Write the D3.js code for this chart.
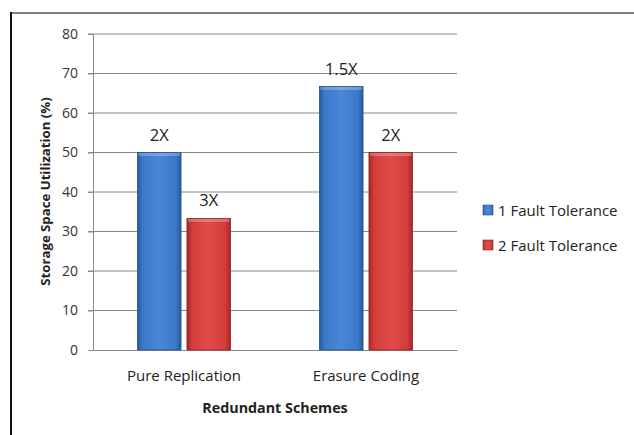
<!DOCTYPE html>
<html>
<head>
<meta charset="utf-8">
<script src="https://cdn.jsdelivr.net/npm/d3@7"></script>
<style>
  body { margin: 0; background: #fff; }
  svg { display: block; }
  text { font-family: "Open Sans", sans-serif; fill: #222; }
</style>
</head>
<body>
<svg id="svg-canvas" width="634" height="435"></svg>
<script>
// Data
const schemes = ['Pure Replication', 'Erasure Coding'];
const seriesNames = ['1 Fault Tolerance', '2 Fault Tolerance'];
const oneFault = [50, 66.7];
const twoFault = [33.3, 50];
const oneFaultLabels = ['2X', '1.5X'];
const twoFaultLabels = ['3X', '2X'];
const yTicks = [0, 10, 20, 30, 40, 50, 60, 70, 80];

const svg = d3.select('#svg-canvas');
const defs = svg.append('defs');

// bar gradients (horizontal shading like the office 3D look)
const palette = [
  { id: 'blueGrad', dark: '#285a9c', mid: '#3b78c8', light: '#4a88d6' },
  { id: 'redGrad', dark: '#a32828', mid: '#d43c3a', light: '#e04c49' }
];
palette.forEach(p => {
  const g = defs.append('linearGradient').attr('id', p.id)
    .attr('x1', 0).attr('x2', 1).attr('y1', 0).attr('y2', 0);
  g.append('stop').attr('offset', '0%').attr('stop-color', p.dark);
  g.append('stop').attr('offset', '12%').attr('stop-color', p.mid);
  g.append('stop').attr('offset', '50%').attr('stop-color', p.light);
  g.append('stop').attr('offset', '88%').attr('stop-color', p.mid);
  g.append('stop').attr('offset', '100%').attr('stop-color', p.dark);
});

// frame
svg.append('line').attr('x1', 11).attr('x2', 634).attr('y1', 13).attr('y2', 13)
  .attr('stroke', '#555').attr('stroke-width', 1.5);
svg.append('line').attr('x1', 11).attr('x2', 11).attr('y1', 12).attr('y2', 435)
  .attr('stroke', '#111').attr('stroke-width', 2);

const plotLeft = 93, plotRight = 457, plotTop = 34, plotBottom = 350;

const y = d3.scaleLinear().domain([0, 80]).range([plotBottom, plotTop]);
const x0 = d3.scaleBand().domain(schemes).range([plotLeft, plotRight]);
const x1 = d3.scaleBand().domain(seriesNames).range([0, x0.bandwidth()])
  .paddingInner(0.12).paddingOuter(0.9);

// gridlines
svg.append('g')
  .selectAll('line').data(yTicks.slice(1)).enter().append('line')
  .attr('x1', plotLeft - 5).attr('x2', plotRight)
  .attr('y1', d => y(d)).attr('y2', d => y(d))
  .attr('stroke', '#8a8a8a').attr('stroke-width', 1);

// y axis
const yAxis = svg.append('g').attr('transform', `translate(${plotLeft},0)`)
  .call(d3.axisLeft(y).tickValues(yTicks).tickSize(5).tickPadding(10));
yAxis.select('.domain').attr('stroke', '#8a8a8a');
yAxis.selectAll('.tick line').attr('stroke', '#8a8a8a');
yAxis.selectAll('text').style('font-size', '14px').style('fill', '#333');

// x axis
const xAxis = svg.append('g').attr('transform', `translate(0,${plotBottom})`)
  .call(d3.axisBottom(x0).tickSize(0).tickPadding(20));
xAxis.select('.domain').attr('stroke', '#8a8a8a');
xAxis.selectAll('text').style('font-size', '15px').style('fill', '#222');

// bars
const series = [
  { name: seriesNames[0], values: oneFault, labels: oneFaultLabels, grad: 'blueGrad', edge: '#24508c' },
  { name: seriesNames[1], values: twoFault, labels: twoFaultLabels, grad: 'redGrad', edge: '#8e2222' }
];

series.forEach(s => {
  const g = svg.append('g');
  g.selectAll('rect').data(schemes).enter().append('rect')
    .attr('x', (d, i) => x0(d) + x1(s.name))
    .attr('y', (d, i) => y(s.values[i]))
    .attr('width', x1.bandwidth())
    .attr('height', (d, i) => plotBottom - y(s.values[i]))
    .attr('fill', `url(#${s.grad})`)
    .attr('stroke', s.edge).attr('stroke-width', 0.8);
  // top highlight
  g.selectAll('.cap').data(schemes).enter().append('rect')
    .attr('class', 'cap')
    .attr('x', (d, i) => x0(d) + x1(s.name) + 1)
    .attr('y', (d, i) => y(s.values[i]) + 0.5)
    .attr('width', x1.bandwidth() - 2)
    .attr('height', 3)
    .attr('fill', '#fff').attr('opacity', 0.25);
  g.selectAll('text').data(schemes).enter().append('text')
    .attr('x', (d, i) => x0(d) + x1(s.name) + x1.bandwidth() / 2)
    .attr('y', (d, i) => y(s.values[i]) - 12)
    .attr('text-anchor', 'middle')
    .style('font-size', '16.5px')
    .text((d, i) => s.labels[i]);
});

// axis titles
svg.append('text')
  .attr('transform', `translate(50,${191.5}) rotate(-90)`)
  .attr('text-anchor', 'middle')
  .style('font-size', '13.2px').style('font-weight', 'bold')
  .text('Storage Space  Utilization (%)');

svg.append('text')
  .attr('x', 275).attr('y', 413)
  .attr('text-anchor', 'middle')
  .style('font-size', '14.3px').style('font-weight', 'bold')
  .text('Redundant Schemes');

// legend
const legend = svg.append('g').attr('transform', 'translate(483,205)');
series.forEach((s, i) => {
  const row = legend.append('g').attr('transform', `translate(0,${i * 35})`);
  row.append('rect').attr('width', 10).attr('height', 10)
    .attr('fill', `url(#${s.grad})`).attr('stroke', s.edge).attr('stroke-width', 0.6);
  row.append('text').attr('x', 15).attr('y', 11)
    .style('font-size', '15px')
    .text(s.name);
});
</script>
</body>
</html>
